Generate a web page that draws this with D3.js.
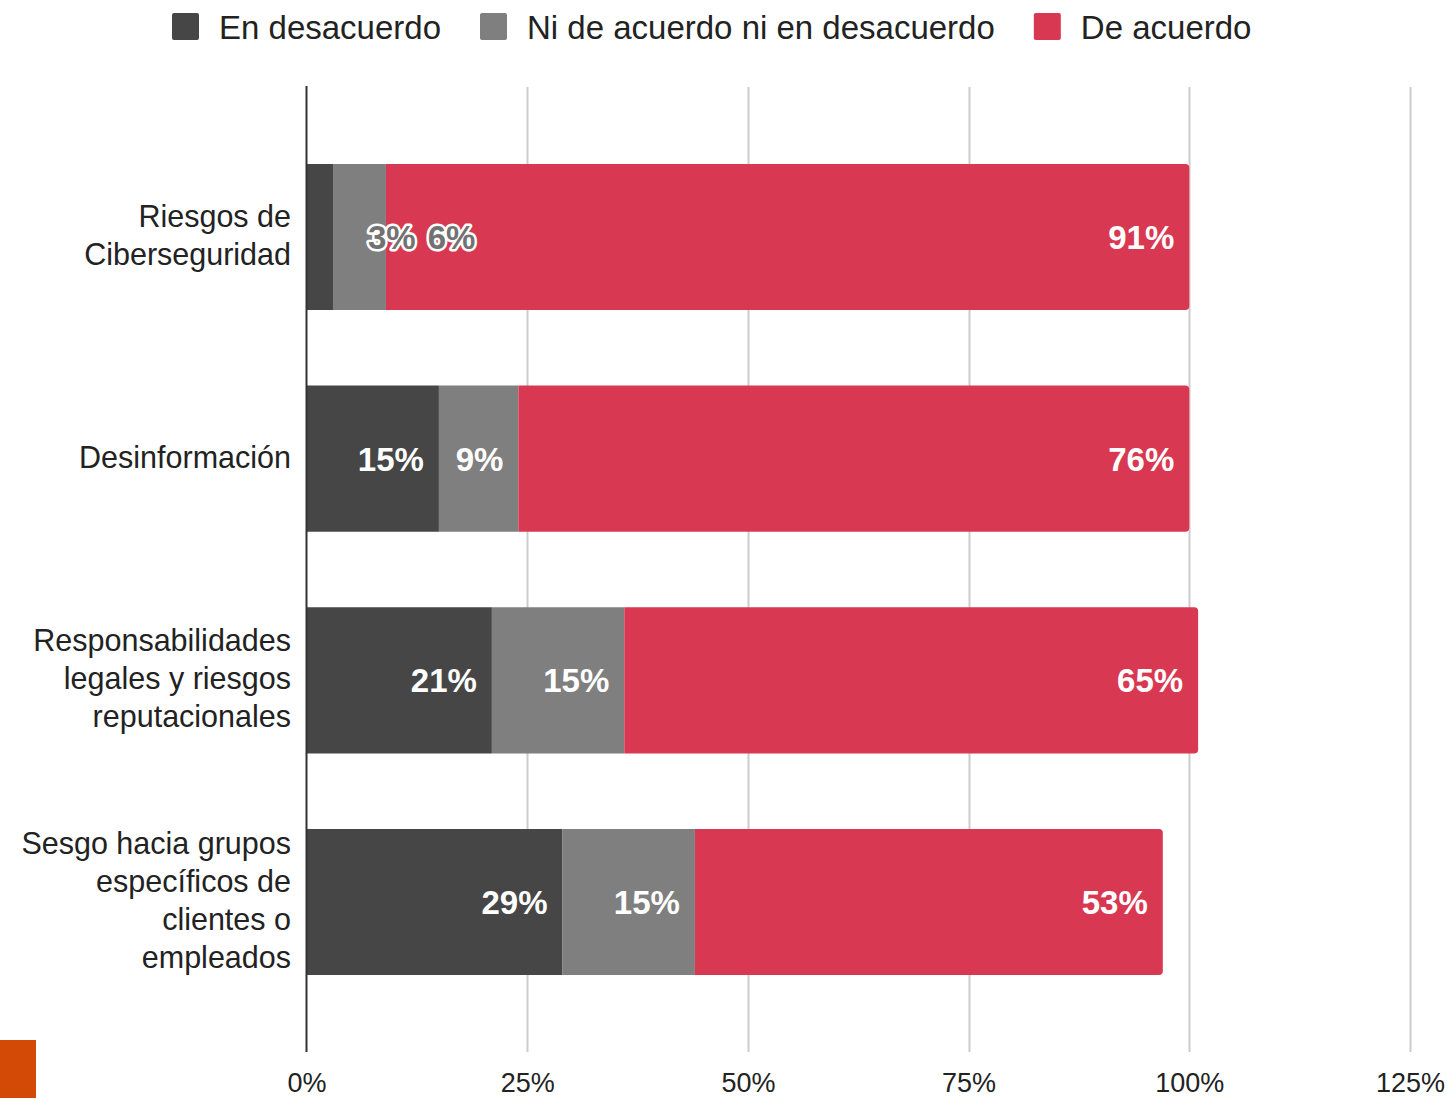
<!DOCTYPE html>
<html>
<head>
<meta charset="utf-8">
<script src="https://cdn.jsdelivr.net/npm/d3@7"></script>
<style>
  html, body { margin: 0; padding: 0; background: #fff; }
  svg { display: block; font-family: "Liberation Sans", Arial, sans-serif; }
</style>
</head>
<body>
<svg id="chart" width="1447" height="1098"></svg>
<script>
// Survey categories (one label line per entry)
const categories = [
  ["Riesgos de", "Ciberseguridad"],
  ["Desinformación"],
  ["Responsabilidades", "legales y riesgos", "reputacionales"],
  ["Sesgo hacia grupos", "específicos de", "clientes o", "empleados"]
];
// Percent of respondents per answer
const enDesacuerdo = [3, 15, 21, 29];
const niDeAcuerdo = [6, 9, 15, 15];
const deAcuerdo = [91, 76, 65, 53];
const seriesNames = ["En desacuerdo", "Ni de acuerdo ni en desacuerdo", "De acuerdo"];
const seriesColors = ["#464646", "#7f7f7f", "#d93852"];
const xTicks = [0, 25, 50, 75, 100, 125];

const svg = d3.select("#chart");
const W = 1447, H = 1098;
const plot = { left: 306.5, right: 1410, top: 87, bottom: 1052 };

const x = d3.scaleLinear().domain([0, 125]).range([plot.left, plot.right]);
const y = d3.scaleBand()
  .domain(d3.range(categories.length))
  .range([plot.top, plot.bottom])
  .paddingInner(0.341)
  .paddingOuter(0.347);

// Vertical gridlines
svg.append("g")
  .selectAll("line")
  .data(xTicks.filter(t => t > 0))
  .join("line")
  .attr("x1", d => Math.round(x(d)) + 0.5)
  .attr("x2", d => Math.round(x(d)) + 0.5)
  .attr("y1", plot.top)
  .attr("y2", plot.bottom)
  .attr("stroke", "#cccccc")
  .attr("stroke-width", 2);

// X axis labels
const xAxis = d3.axisBottom(x)
  .tickValues(xTicks)
  .tickFormat(d => d + "%")
  .tickSize(0)
  .tickPadding(0);
const gx = svg.append("g")
  .attr("transform", `translate(0,${plot.bottom})`)
  .call(xAxis);
gx.select(".domain").remove();
gx.selectAll("text")
  .attr("y", 40)
  .attr("dy", 0)
  .attr("fill", "#222")
  .style("font-size", "27px")
  .style("font-family", "'Liberation Sans', Arial, sans-serif");

// Stacked data
const rows = categories.map((c, i) => {
  const vals = [enDesacuerdo[i], niDeAcuerdo[i], deAcuerdo[i]];
  let acc = 0;
  const segs = vals.map((v, k) => {
    const s = { row: i, k, v, x0: acc, x1: acc + v };
    acc += v;
    return s;
  });
  return { i, segs };
});

// Rounded right end for the last segment of each bar
function segPath(s) {
  const x0 = x(s.x0), x1 = x(s.x1);
  const y0 = y(s.row), h = y.bandwidth();
  if (s.k !== 2) return `M${x0},${y0}H${x1}V${y0 + h}H${x0}Z`;
  const r = 4;
  return `M${x0},${y0}H${x1 - r}Q${x1},${y0} ${x1},${y0 + r}V${y0 + h - r}Q${x1},${y0 + h} ${x1 - r},${y0 + h}H${x0}Z`;
}

const bars = svg.append("g");
rows.forEach(r => {
  bars.selectAll(null)
    .data(r.segs)
    .join("path")
    .attr("d", segPath)
    .attr("fill", d => seriesColors[d.k]);
});

// Value labels
const labels = svg.append("g")
  .style("font-weight", "bold")
  .style("font-size", "33px");
const pad = 15;
rows.forEach(r => {
  const cy = y(r.i) + y.bandwidth() / 2;
  // measure each label
  const items = r.segs.map(s => {
    const t = labels.append("text").text(s.v + "%").attr("visibility", "hidden");
    const w = t.node().getComputedTextLength();
    t.remove();
    return { s, w, fits: (x(s.x1) - x(s.x0)) >= w + pad + 5 };
  });
  // labels that fit go inside, right-aligned
  items.filter(d => d.fits).forEach(d => {
    labels.append("text")
      .attr("x", x(d.s.x1) - pad)
      .attr("y", cy)
      .attr("dy", "0.36em")
      .attr("text-anchor", "end")
      .attr("fill", "#fff")
      .text(d.s.v + "%");
  });
  // labels that do not fit are laid out in a row with a halo
  const small = items.filter(d => !d.fits);
  if (small.length) {
    let cx = x(d3.max(small, d => d.s.x1)) - 18;
    small.forEach(d => {
      labels.append("text")
        .attr("x", cx)
        .attr("y", cy)
        .attr("dy", "0.36em")
        .attr("text-anchor", "start")
        .attr("fill", "#727272")
        .attr("stroke", "#fff")
        .attr("stroke-width", 5)
        .attr("stroke-linejoin", "round")
        .attr("paint-order", "stroke")
        .text(d.s.v + "%");
      cx += d.w + 12;
    });
  }
});

// Baseline at 0%
svg.append("line")
  .attr("x1", x(0)).attr("x2", x(0))
  .attr("y1", plot.top - 1).attr("y2", plot.bottom)
  .attr("stroke", "#333")
  .attr("stroke-width", 2);

// Category labels
const lineH = 38;
const cat = svg.append("g")
  .style("font-size", "30.5px")
  .attr("fill", "#222")
  .attr("text-anchor", "end");
categories.forEach((lines, i) => {
  const cy = y(i) + y.bandwidth() / 2;
  const t = cat.append("text").attr("x", 291).attr("y", cy - (lines.length - 1) * lineH / 2 - 2);
  lines.forEach((ln, j) => {
    t.append("tspan")
      .attr("x", 291)
      .attr("dy", j === 0 ? "0.36em" : lineH)
      .text(ln);
  });
});

// Legend
const legend = svg.append("g").style("font-size", "33px");
let lx = 172;
seriesNames.forEach((name, k) => {
  legend.append("rect")
    .attr("x", lx).attr("y", 13)
    .attr("width", 27).attr("height", 27)
    .attr("rx", 2)
    .attr("fill", seriesColors[k]);
  const t = legend.append("text")
    .attr("x", lx + 47)
    .attr("y", 27)
    .attr("dy", "0.36em")
    .attr("fill", "#222")
    .text(name);
  lx += 47 + t.node().getComputedTextLength() + 39;
});

// Corner badge
svg.append("rect")
  .attr("x", 0).attr("y", 1040)
  .attr("width", 36).attr("height", H - 1040)
  .attr("fill", "#d24a06");
</script>
</body>
</html>
